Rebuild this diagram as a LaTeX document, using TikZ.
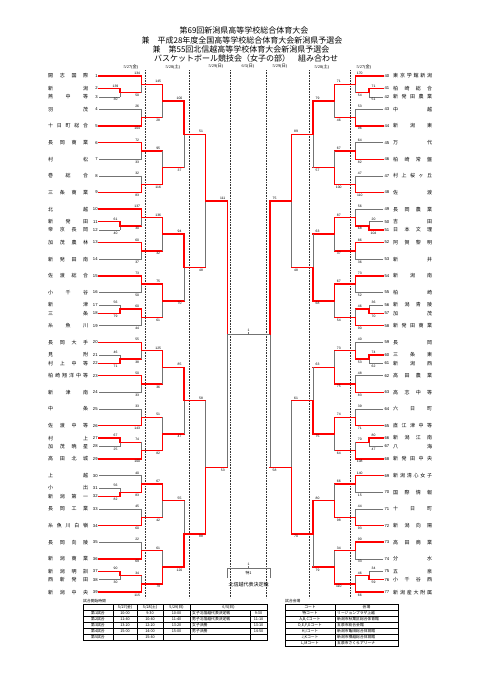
\documentclass[tikz,border=0pt]{standalone}
\usepackage{fontspec}
\setmainfont{Liberation Sans}
\newfontfamily\jp{Noto Sans CJK JP}
\newfontfamily\srf{Liberation Serif}
\def\gobbleone#1{}
\def\spreadi#1#2{#1\ifx\relax#2\expandafter\gobbleone\else\hfil\expandafter\spreadi\fi{#2}}
\newcommand\spreadname[1]{\spreadi#1\relax}
\tikzset{
 win/.style={draw=red, line width=1.45pt, line cap=rect},
 lose/.style={draw=black!55, line width=0.55pt},
 pre/.style={draw=none},
 sc/.style={font=\fontsize{3.4}{3.4}\selectfont, inner sep=0pt},
 tname/.style={font=\jp\fontsize{5}{5}\selectfont, inner sep=0pt},
 tnum/.style={font=\fontsize{4.2}{4.2}\selectfont, inner sep=0pt},
 dotl/.style={draw=black!80, line width=0.35pt, dash pattern=on 0.7pt off 0.9pt},
 hdr/.style={font=\srf\fontsize{4.3}{4.3}\selectfont, inner sep=0pt},
 ttl/.style={font=\jp\fontsize{8}{8}\selectfont, inner sep=0pt},
 tb/.style={font=\jp\fontsize{3.8}{3.8}\selectfont, inner sep=0pt},
 grid/.style={draw=black, line width=0.35pt},
}
\expandafter\def\csname xL0\endcsname{99}
\expandafter\def\csname xLp\endcsname{120}
\expandafter\def\csname xL1\endcsname{141.7}
\expandafter\def\csname xL2\endcsname{162.7}
\expandafter\def\csname xL3\endcsname{184}
\expandafter\def\csname xL4\endcsname{205.5}
\expandafter\def\csname xL5\endcsname{227.3}
\expandafter\def\csname xR0\endcsname{383}
\expandafter\def\csname xRp\endcsname{369}
\expandafter\def\csname xR1\endcsname{355.3}
\expandafter\def\csname xR2\endcsname{334.3}
\expandafter\def\csname xR3\endcsname{313}
\expandafter\def\csname xR4\endcsname{291.5}
\expandafter\def\csname xR5\endcsname{270}
% generic junction
\newcommand\Jc[9]{%
 \pgfmathsetmacro\ym{(#3+#4)/2}%
 \pgfmathsetmacro\lx{#2+\loff}%
 \draw[#8] (#1,#3) -- (#2,#3);
 \draw[#9] (#1,#4) -- (#2,#4);
 \if#5u\relax
   \draw[lose] (#2,\ym) -- (#2,#4);
   \draw[win] (#2,#3) -- (#2,\ym);
 \else
   \draw[lose] (#2,#3) -- (#2,\ym);
   \draw[win] (#2,\ym) -- (#2,#4);
 \fi
 \node[sc] at (\lx,#3-2.6) {#6};
 \node[sc] at (\lx,#4+2.8) {#7};
}
% match at level #1 index #2
\newcommand\Mt[7]{%
 \pgfmathsetmacro\yu{76+(2^(#1-1)*(2*#2-1)-(2^(#1-1)+1)/2)*16.65}%
 \pgfmathsetmacro\yl{76+(2^(#1-1)*(2*#2)-(2^(#1-1)+1)/2)*16.65}%
 \edef\xin{\csname x\sd\number\numexpr#1-1\relax\endcsname}%
 \edef\xj{\csname x\sd#1\endcsname}%
 \Jc{\xin}{\xj}{\yu}{\yl}{#3}{#4}{#5}{#6}{#7}}
% preliminary game at leaf #1
\newcommand\Pg[4]{%
 \pgfmathsetmacro\yc{76+(#1-1)*16.65}%
 \pgfmathsetmacro\yu{\yc-4.2}\pgfmathsetmacro\yl{\yc+4.2}%
 \edef\xin{\csname x\sd0\endcsname}\edef\xj{\csname x\sd p\endcsname}%
 \edef\xo{\csname x\sd1\endcsname}%
 \draw[win] (\xj,\yc) -- (\xo,\yc);
 \if#2u\relax \Jc{\xin}{\xj}{\yu}{\yl}{u}{#3}{#4}{win}{lose}%
 \else \Jc{\xin}{\xj}{\yu}{\yl}{l}{#3}{#4}{lose}{win}\fi}
\newcommand\TL[4]{%
 \pgfmathsetmacro\ty{76+(#1-1)*16.65+(#2)}%
 \node[tname,anchor=west] (nl#3) at (48,\ty) {\makebox[40pt][s]{\spreadname{#4}}};
 \node[tnum,anchor=east] (ml#3) at (97.8,\ty) {#3};}
\newcommand\TR[4]{%
 \pgfmathsetmacro\ty{76+(#1-1)*16.65+(#2)}%
 \node[tnum,anchor=west] (mr#3) at (384.3,\ty) {#3};
 \node[tname,anchor=west] (nr#3) at (393,\ty) {\makebox[39pt][s]{\spreadname{#4}}};}
\begin{document}
\begin{tikzpicture}[x=1pt,y=-1pt]
\fill[white] (0,0) rectangle (481,680);
\useasboundingbox (0,0) rectangle (481,680);
% titles
\node[ttl] (t1) at (244,30) {第69回新潟県高等学校総合体育大会};
\node[ttl] (t2) at (242,40) {兼　平成28年度全国高等学校総合体育大会新潟県予選会};
\node[ttl] (t3) at (241,49.3) {兼　第55回北信越高等学校体育大会新潟県予選会};
\node[ttl] (t4) at (246,58.3) {バスケットボール競技会（女子の部）　組み合わせ};
% date headers
\node[hdr] (h1) at (131,66.7) {5/27({\jp 金})};
\node[hdr] (h2) at (173,66.7) {5/28({\jp 土})};
\node[hdr] (h3) at (216,66.7) {5/29({\jp 日})};
\node[hdr] (h4) at (248,66.7) {6/5({\jp 日})};
\node[hdr] (h5) at (280,66.7) {5/29({\jp 日})};
\node[hdr] (h6) at (322,66.7) {5/28({\jp 土})};
\node[hdr] (h7) at (364,66.7) {5/27({\jp 金})};
\foreach \x in {145,189.3,230.5,266,309,350} \draw[dotl] (\x,70) -- (\x,598);
% ---------------- left side
\def\sd{L}\def\loff{-4.5}
\Pg{2}{u}{139}{30}
\Pg{10}{u}{61}{40}
\Pg{15}{l}{56}{79}
\Pg{18}{l}{46}{71}
\Pg{23}{u}{67}{25}
\Pg{26}{l}{56}{82}
\Pg{31}{u}{90}{30}
\Mt{1}{1}{u}{134}{50}{win}{pre}
\Mt{1}{2}{l}{26}{104}{lose}{win}
\Mt{1}{3}{u}{72}{33}{win}{lose}
\Mt{1}{4}{l}{32}{83}{lose}{win}
\Mt{1}{5}{u}{137}{30}{win}{pre}
\Mt{1}{6}{u}{60}{37}{win}{lose}
\Mt{1}{7}{u}{73}{50}{win}{lose}
\Mt{1}{8}{u}{60}{44}{pre}{lose}
\Mt{1}{9}{u}{55}{38}{win}{pre}
\Mt{1}{10}{u}{50}{33}{win}{lose}
\Mt{1}{11}{l}{33}{143}{lose}{win}
\Mt{1}{12}{l}{74}{100}{pre}{win}
\Mt{1}{13}{l}{40}{83}{lose}{pre}
\Mt{1}{14}{l}{45}{60}{lose}{win}
\Mt{1}{15}{l}{22}{69}{lose}{win}
\Mt{1}{16}{l}{34}{115}{pre}{win}
\Mt{2}{1}{u}{145}{28}{win}{win}
\Mt{2}{2}{l}{95}{116}{win}{win}
\Mt{2}{3}{u}{136}{32}{win}{win}
\Mt{2}{4}{u}{75}{61}{win}{win}
\Mt{2}{5}{u}{125}{36}{win}{win}
\Mt{2}{6}{l}{51}{82}{win}{win}
\Mt{2}{7}{u}{67}{42}{win}{win}
\Mt{2}{8}{l}{61}{79}{win}{win}
\Mt{3}{1}{u}{100}{37}{win}{win}
\Mt{3}{2}{u}{94}{70}{win}{win}
\Mt{3}{3}{u}{85}{47}{win}{win}
\Mt{3}{4}{l}{55}{120}{win}{win}
\Mt{4}{1}{u}{51}{48}{win}{win}
\Mt{4}{2}{l}{58}{88}{win}{win}
\Mt{5}{1}{u}{111}{53}{win}{win}
% ---------------- right side
\def\sd{R}\def\loff{4.5}
\Pg{2}{u}{71}{51}
\Pg{10}{l}{20}{104}
\Pg{15}{l}{36}{70}
\Pg{18}{u}{74}{62}
\Pg{23}{u}{80}{47}
\Pg{31}{l}{34}{59}
\Mt{1}{1}{u}{170}{54}{win}{pre}
\Mt{1}{2}{l}{53}{96}{lose}{win}
\Mt{1}{3}{l}{64}{82}{lose}{win}
\Mt{1}{4}{l}{47}{110}{lose}{win}
\Mt{1}{5}{l}{56}{68}{lose}{pre}
\Mt{1}{6}{u}{86}{36}{win}{lose}
\Mt{1}{7}{u}{73}{52}{win}{lose}
\Mt{1}{8}{l}{46}{90}{pre}{win}
\Mt{1}{9}{l}{40}{53}{lose}{pre}
\Mt{1}{10}{l}{48}{83}{lose}{win}
\Mt{1}{11}{l}{39}{71}{lose}{win}
\Mt{1}{12}{l}{70}{108}{pre}{win}
\Mt{1}{13}{u}{140}{15}{win}{lose}
\Mt{1}{14}{l}{44}{93}{lose}{win}
\Mt{1}{15}{u}{90}{33}{win}{lose}
\Mt{1}{16}{l}{46}{66}{pre}{win}
\Mt{2}{1}{u}{71}{46}{win}{win}
\Mt{2}{2}{l}{67}{100}{win}{win}
\Mt{2}{3}{u}{87}{37}{win}{win}
\Mt{2}{4}{u}{67}{54}{win}{win}
\Mt{2}{5}{l}{73}{75}{win}{win}
\Mt{2}{6}{u}{74}{64}{win}{win}
\Mt{2}{7}{l}{66}{98}{win}{win}
\Mt{2}{8}{l}{34}{110}{win}{win}
\Mt{3}{1}{u}{79}{57}{win}{win}
\Mt{3}{2}{l}{63}{68}{win}{win}
\Mt{3}{3}{l}{63}{75}{win}{win}
\Mt{3}{4}{u}{80}{79}{win}{win}
\Mt{4}{1}{u}{89}{48}{win}{win}
\Mt{4}{2}{l}{61}{70}{win}{win}
\Mt{5}{1}{u}{75}{58}{win}{win}
% final
\draw[lose] (227.3,334.1) -- (270,334.1);
\draw[lose] (248.6,334.1) -- (248.6,331.8);
\node[sc] (f1) at (248.6,330) {1};
% special game
\draw[lose] (227.3,578) -- (227.3,568.3) -- (270,568.3) -- (270,578);
\draw[lose] (248.6,568.3) -- (248.6,566);
\node[sc] (s1) at (248.6,564) {1};
\node[tb] (s2) at (248.6,572.8) {特1};
\node[tname] (s3) at (248.6,585) {北信越代表決定戦};
% ---------------- team names
\TL{1}{0}{1}{開志国際}
\TL{2}{-4.2}{2}{新潟}
\TL{2}{4.2}{3}{燕中等}
\TL{3}{0}{4}{羽茂}
\TL{4}{0}{5}{十日町総合}
\TL{5}{0}{6}{長岡商業}
\TL{6}{0}{7}{村松}
\TL{7}{0}{8}{巻総合}
\TL{8}{0}{9}{三条商業}
\TL{9}{0}{10}{北越}
\TL{10}{-4.2}{11}{新発田}
\TL{10}{4.2}{12}{帝京長岡}
\TL{11}{0}{13}{加茂農林}
\TL{12}{0}{14}{新発田南}
\TL{13}{0}{15}{佐渡総合}
\TL{14}{0}{16}{小千谷}
\TL{15}{-4.2}{17}{新津}
\TL{15}{4.2}{18}{三条}
\TL{16}{0}{19}{糸魚川}
\TL{17}{0}{20}{長岡大手}
\TL{18}{-4.2}{21}{見附}
\TL{18}{4.2}{22}{村上中等}
\TL{19}{0}{23}{柏崎翔洋中等}
\TL{20}{0}{24}{新津南}
\TL{21}{0}{25}{中条}
\TL{22}{0}{26}{佐渡中等}
\TL{23}{-4.2}{27}{村上}
\TL{23}{4.2}{28}{加茂暁星}
\TL{24}{0}{29}{高田北城}
\TL{25}{0}{30}{上越}
\TL{26}{-4.2}{31}{小出}
\TL{26}{4.2}{32}{新潟第一}
\TL{27}{0}{33}{長岡工業}
\TL{28}{0}{34}{糸魚川白嶺}
\TL{29}{0}{35}{長岡向陵}
\TL{30}{0}{36}{新潟商業}
\TL{31}{-4.2}{37}{新潟明訓}
\TL{31}{4.2}{38}{西新発田}
\TL{32}{0}{39}{新潟中央}
\TR{1}{0}{40}{東京学館新潟}
\TR{2}{-4.2}{41}{柏崎総合}
\TR{2}{4.2}{42}{新発田農業}
\TR{3}{0}{43}{中越}
\TR{4}{0}{44}{新潟東}
\TR{5}{0}{45}{万代}
\TR{6}{0}{46}{柏崎常盤}
\TR{7}{0}{47}{村上桜ヶ丘}
\TR{8}{0}{48}{佐渡}
\TR{9}{0}{49}{長岡農業}
\TR{10}{-4.2}{50}{吉田}
\TR{10}{4.2}{51}{日本文理}
\TR{11}{0}{52}{阿賀黎明}
\TR{12}{0}{53}{新井}
\TR{13}{0}{54}{新潟南}
\TR{14}{0}{55}{柏崎}
\TR{15}{-4.2}{56}{新潟青陵}
\TR{15}{4.2}{57}{加茂}
\TR{16}{0}{58}{新発田商業}
\TR{17}{0}{59}{長岡}
\TR{18}{-4.2}{60}{三条東}
\TR{18}{4.2}{61}{新潟西}
\TR{19}{0}{62}{高田農業}
\TR{20}{0}{63}{高志中等}
\TR{21}{0}{64}{六日町}
\TR{22}{0}{65}{直江津中等}
\TR{23}{-4.2}{66}{新潟江南}
\TR{23}{4.2}{67}{八海}
\TR{24}{0}{68}{新発田中央}
\TR{25}{0}{69}{新潟清心女子}
\TR{26}{0}{70}{国際情報}
\TR{27}{0}{71}{十日町}
\TR{28}{0}{72}{新潟向陽}
\TR{29}{0}{73}{高田商業}
\TR{30}{0}{74}{分水}
\TR{31}{-4.2}{75}{五泉}
\TR{31}{4.2}{76}{小千谷西}
\TR{32}{0}{77}{新潟産大附属}
% ---------------- start time table
\node[tb,anchor=west] (ta) at (83,601.5) {試合開始時間};
\draw[grid] (83,604) rectangle (267,640);
\foreach \y in {610,616,622,628,634} \draw[grid] (83,\y) -- (267,\y);
\foreach \x in {113,137,163,190} \draw[grid] (\x,604) -- (\x,640);
\draw[grid] (250,610) -- (250,640);
\node[tb] (tc1) at (125,607) {5/27(金)};
\node[tb] (tc2) at (150,607) {5/28(土)};
\node[tb] (tc3) at (176.5,607) {5/29(日)};
\node[tb] (tc4) at (228.5,607) {6/5(日)};
\foreach \r/\a/\b/\c/\e/\t [count=\i] in {第1試合/10:00/9:30/10:00/女子北信越代表決定戦/9:30,第2試合/11:40/10:40/11:40/男子北信越代表決定戦/11:10,第3試合/13:20/12:20/13:20/女子決勝/13:10,第4試合/15:00/14:00/15:00/男子決勝/14:50}{
 \node[tb] (tr\i) at (98,607+6*\i) {\r};
 \node[tb] (ta\i) at (125,607+6*\i) {\a};
 \node[tb] (tb\i) at (150,607+6*\i) {\b};
 \node[tb] (tcc\i) at (176.5,607+6*\i) {\c};
 \node[tb,anchor=west] (te\i) at (192,607+6*\i) {\e};
 \node[tb] (tt\i) at (258.5,607+6*\i) {\t};
}
\node[tb] (tr5) at (98,637) {第5試合};
\node[tb] (tb5) at (150,637) {15:40};
% ---------------- venue table
\node[tb,anchor=west] (va) at (285,601.5) {試合会場};
\draw[grid] (285,604) rectangle (398,646);
\foreach \y in {610,616,622,628,634,640} \draw[grid] (285,\y) -- (398,\y);
\draw[grid] (335,604) -- (335,646);
\node[tb] (vh1) at (310,607) {コート};
\node[tb] (vh2) at (366.5,607) {会場};
\foreach \c/\v [count=\i] in {特コート/リージョンプラザ上越,{A,B,Cコート}/新潟市秋葉区総合体育館,{D,E,F,Gコート}/五泉市総合会館,{H,Iコート}/新潟市亀田総合体育館,{J,Kコート}/新潟市横越総合体育館,{L,Mコート}/五泉市さくらアリーナ}{
 \node[tb] (vc\i) at (310,607+6*\i) {\c};
 \node[tb,anchor=west] (vv\i) at (337,607+6*\i) {\v};
}
\end{tikzpicture}
\end{document}
